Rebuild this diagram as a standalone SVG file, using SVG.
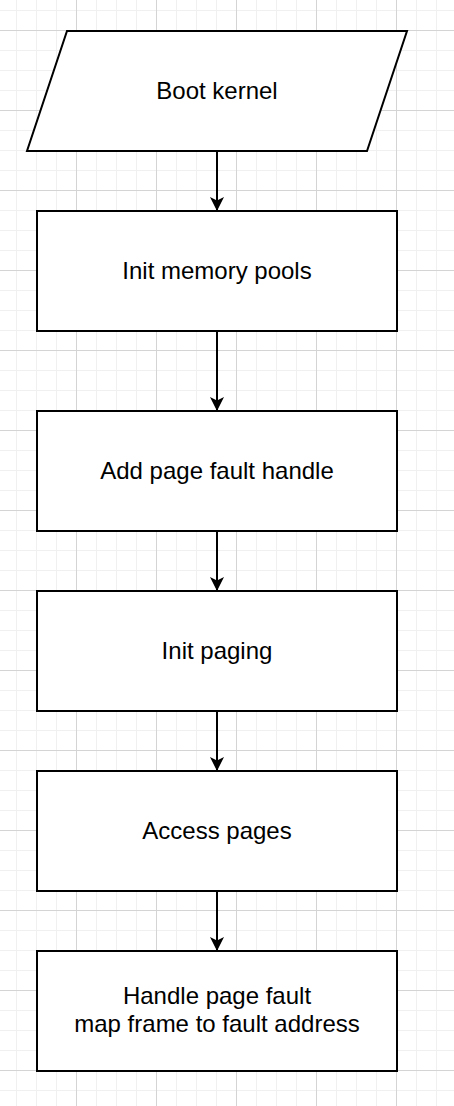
<svg xmlns="http://www.w3.org/2000/svg" width="454" height="1106" viewBox="0 0 454 1106">
<defs>
<pattern id="grid" x="76" y="30" width="80" height="80" patternUnits="userSpaceOnUse">
<path d="M20.5,0V80M40.5,0V80M60.5,0V80M0,20.5H80M0,40.5H80M0,60.5H80" stroke="#f0f0f0" stroke-width="1" fill="none"/>
<path d="M0.5,0V80M0,0.5H80" stroke="#d4d4d4" stroke-width="1" fill="none"/>
</pattern>
<marker id="arrow" markerUnits="userSpaceOnUse" viewBox="0 0 14 14" refX="14" refY="7" markerWidth="14" markerHeight="14" orient="auto">
<path d="M14,7 L0,0 L3.5,7 L0,14 Z" fill="#000"/>
</marker>
<style>
.shape{fill:#fff;stroke:#000;stroke-width:2}
.label{font-family:"Liberation Sans",Arial,sans-serif;font-size:24px;fill:#000;text-anchor:middle}
.edge{stroke:#000;stroke-width:2;fill:none;marker-end:url(#arrow)}
</style>
</defs>
<rect width="454" height="1106" fill="#fff"/>
<rect width="454" height="1106" fill="url(#grid)"/>
<g id="edges">
<path class="edge" d="M217,151V211"/>
<path class="edge" d="M217,331V411"/>
<path class="edge" d="M217,531V591"/>
<path class="edge" d="M217,711V771"/>
<path class="edge" d="M217,891V951"/>
</g>
<g id="boot">
<polygon class="shape" points="67,31 407,31 367,151 27,151"/>
<text class="label" x="217" y="99">Boot kernel</text>
</g>
<g id="init-memory">
<rect class="shape" x="37" y="211" width="360" height="120"/>
<text class="label" x="217" y="279">Init memory pools</text>
</g>
<g id="add-handler">
<rect class="shape" x="37" y="411" width="360" height="120"/>
<text class="label" x="217" y="479">Add page fault handle</text>
</g>
<g id="init-paging">
<rect class="shape" x="37" y="591" width="360" height="120"/>
<text class="label" x="217" y="659">Init paging</text>
</g>
<g id="access-pages">
<rect class="shape" x="37" y="771" width="360" height="120"/>
<text class="label" x="217" y="839">Access pages</text>
</g>
<g id="handle-fault">
<rect class="shape" x="37" y="951" width="360" height="120"/>
<text class="label" x="217" y="1004">Handle page fault</text>
<text class="label" x="217" y="1032">map frame to fault address</text>
</g>
</svg>
